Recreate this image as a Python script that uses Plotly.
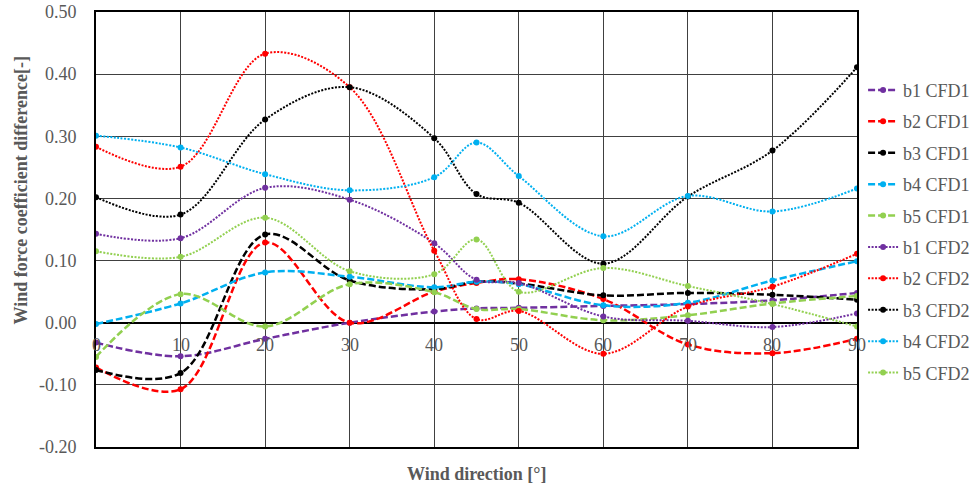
import plotly.graph_objects as go

directions = [0, 10, 20, 30, 40, 45, 50, 60, 70, 80, 90]
x_tick_vals = [0, 10, 20, 30, 40, 50, 60, 70, 80, 90]
x_tick_text = ["0", "10", "20", "30", "40", "50", "60", "70", "80", "90"]
y_tick_vals = [-0.2, -0.1, 0.0, 0.1, 0.2, 0.3, 0.4, 0.5]
y_tick_text = ["-0.20", "-0.10", "0.00", "0.10", "0.20", "0.30", "0.40", "0.50"]

b1_cfd1 = [-0.032, -0.054, -0.026, 0.000, 0.018, 0.023, 0.024, 0.027, 0.030, 0.036, 0.048]
b2_cfd1 = [-0.072, -0.107, 0.129, 0.000, 0.050, 0.064, 0.070, 0.038, -0.035, -0.049, -0.026]
b3_cfd1 = [-0.076, -0.081, 0.142, 0.068, 0.054, 0.066, 0.063, 0.044, 0.048, 0.045, 0.037]
b4_cfd1 = [-0.002, 0.031, 0.081, 0.074, 0.057, 0.066, 0.062, 0.028, 0.032, 0.068, 0.099]
b5_cfd1 = [-0.055, 0.046, -0.006, 0.062, 0.049, 0.022, 0.022, 0.004, 0.012, 0.031, 0.043]

b1_cfd2 = [0.143, 0.136, 0.217, 0.198, 0.128, 0.069, 0.064, 0.010, 0.003, -0.007, 0.015]
b2_cfd2 = [0.283, 0.251, 0.433, 0.379, 0.116, 0.006, 0.019, -0.050, 0.026, 0.058, 0.111]
b3_cfd2 = [0.202, 0.174, 0.327, 0.379, 0.297, 0.207, 0.193, 0.095, 0.203, 0.277, 0.411]
b4_cfd2 = [0.301, 0.282, 0.239, 0.213, 0.234, 0.290, 0.236, 0.139, 0.204, 0.179, 0.216]
b5_cfd2 = [0.115, 0.106, 0.169, 0.083, 0.078, 0.134, 0.050, 0.088, 0.059, 0.030, -0.006]

series = [
    ("b1 CFD1", b1_cfd1, "#7030A0", "dash"),
    ("b2 CFD1", b2_cfd1, "#FF0000", "dash"),
    ("b3 CFD1", b3_cfd1, "#000000", "dash"),
    ("b4 CFD1", b4_cfd1, "#00B0F0", "dash"),
    ("b5 CFD1", b5_cfd1, "#92D050", "dash"),
    ("b1 CFD2", b1_cfd2, "#7030A0", "dot"),
    ("b2 CFD2", b2_cfd2, "#FF0000", "dot"),
    ("b3 CFD2", b3_cfd2, "#000000", "dot"),
    ("b4 CFD2", b4_cfd2, "#00B0F0", "dot"),
    ("b5 CFD2", b5_cfd2, "#92D050", "dot"),
]

FONT = "Liberation Serif"
GRAY = "#595959"

fig = go.Figure()
for name, vals, color, kind in series:
    if kind == "dash":
        line = dict(color=color, width=2.5, dash="7px,3px", shape="spline", smoothing=1)
    else:
        line = dict(color=color, width=2, dash="2px,1.5px", shape="spline", smoothing=1)
    fig.add_trace(go.Scatter(
        x=directions, y=vals, name=name, mode="lines+markers",
        line=line, marker=dict(color=color, size=6, symbol="circle"),
        legendgroup=name,
    ))

annotations = []
for tv, tt in zip(x_tick_vals, x_tick_text):
    annotations.append(dict(x=tv, y=0, xref="x", yref="y", text=tt, showarrow=False,
                            yshift=-22, yanchor="middle", xanchor="center",
                            font=dict(family=FONT, size=18, color=GRAY)))
annotations.append(dict(x=0.5, y=0, xref="paper", yref="paper", text="<b>Wind direction [°]</b>",
                        showarrow=False, xanchor="center", yanchor="middle", yshift=-27,
                        font=dict(family=FONT, size=18, color=GRAY)))
annotations.append(dict(x=0, y=0.5, xref="paper", yref="paper",
                        text="<b>Wind force coefficient difference[-]</b>",
                        showarrow=False, textangle=-90, xanchor="center", yanchor="middle",
                        xshift=-76, yshift=39,
                        font=dict(family=FONT, size=18, color=GRAY)))

fig.update_layout(
    width=977, height=488,
    margin=dict(l=96, r=120, t=12, b=41, autoexpand=False),
    paper_bgcolor="white", plot_bgcolor="white",
    font=dict(family=FONT, size=18, color=GRAY),
    showlegend=True,
    legend=dict(x=1.008, xanchor="left", y=0.496, yanchor="middle",
                font=dict(family=FONT, size=18, color=GRAY),
                tracegroupgap=5, bgcolor="rgba(0,0,0,0)"),
    annotations=annotations,
)
fig.update_xaxes(range=[0, 90], tickvals=x_tick_vals, showticklabels=False,
                 showgrid=True, gridcolor="#404040", gridwidth=1,
                 showline=True, linecolor="#000000", linewidth=2, mirror=True,
                 zeroline=False, ticks="")
fig.update_yaxes(range=[-0.2, 0.5], tickvals=y_tick_vals, ticktext=y_tick_text,
                 showgrid=True, gridcolor="#404040", gridwidth=1,
                 showline=True, linecolor="#000000", linewidth=2, mirror=True,
                 zeroline=True, zerolinecolor="#000000", zerolinewidth=2,
                 ticks="", ticklabelstandoff=14,
                 tickfont=dict(family=FONT, size=18, color=GRAY))

fig.write_html("out.html")
